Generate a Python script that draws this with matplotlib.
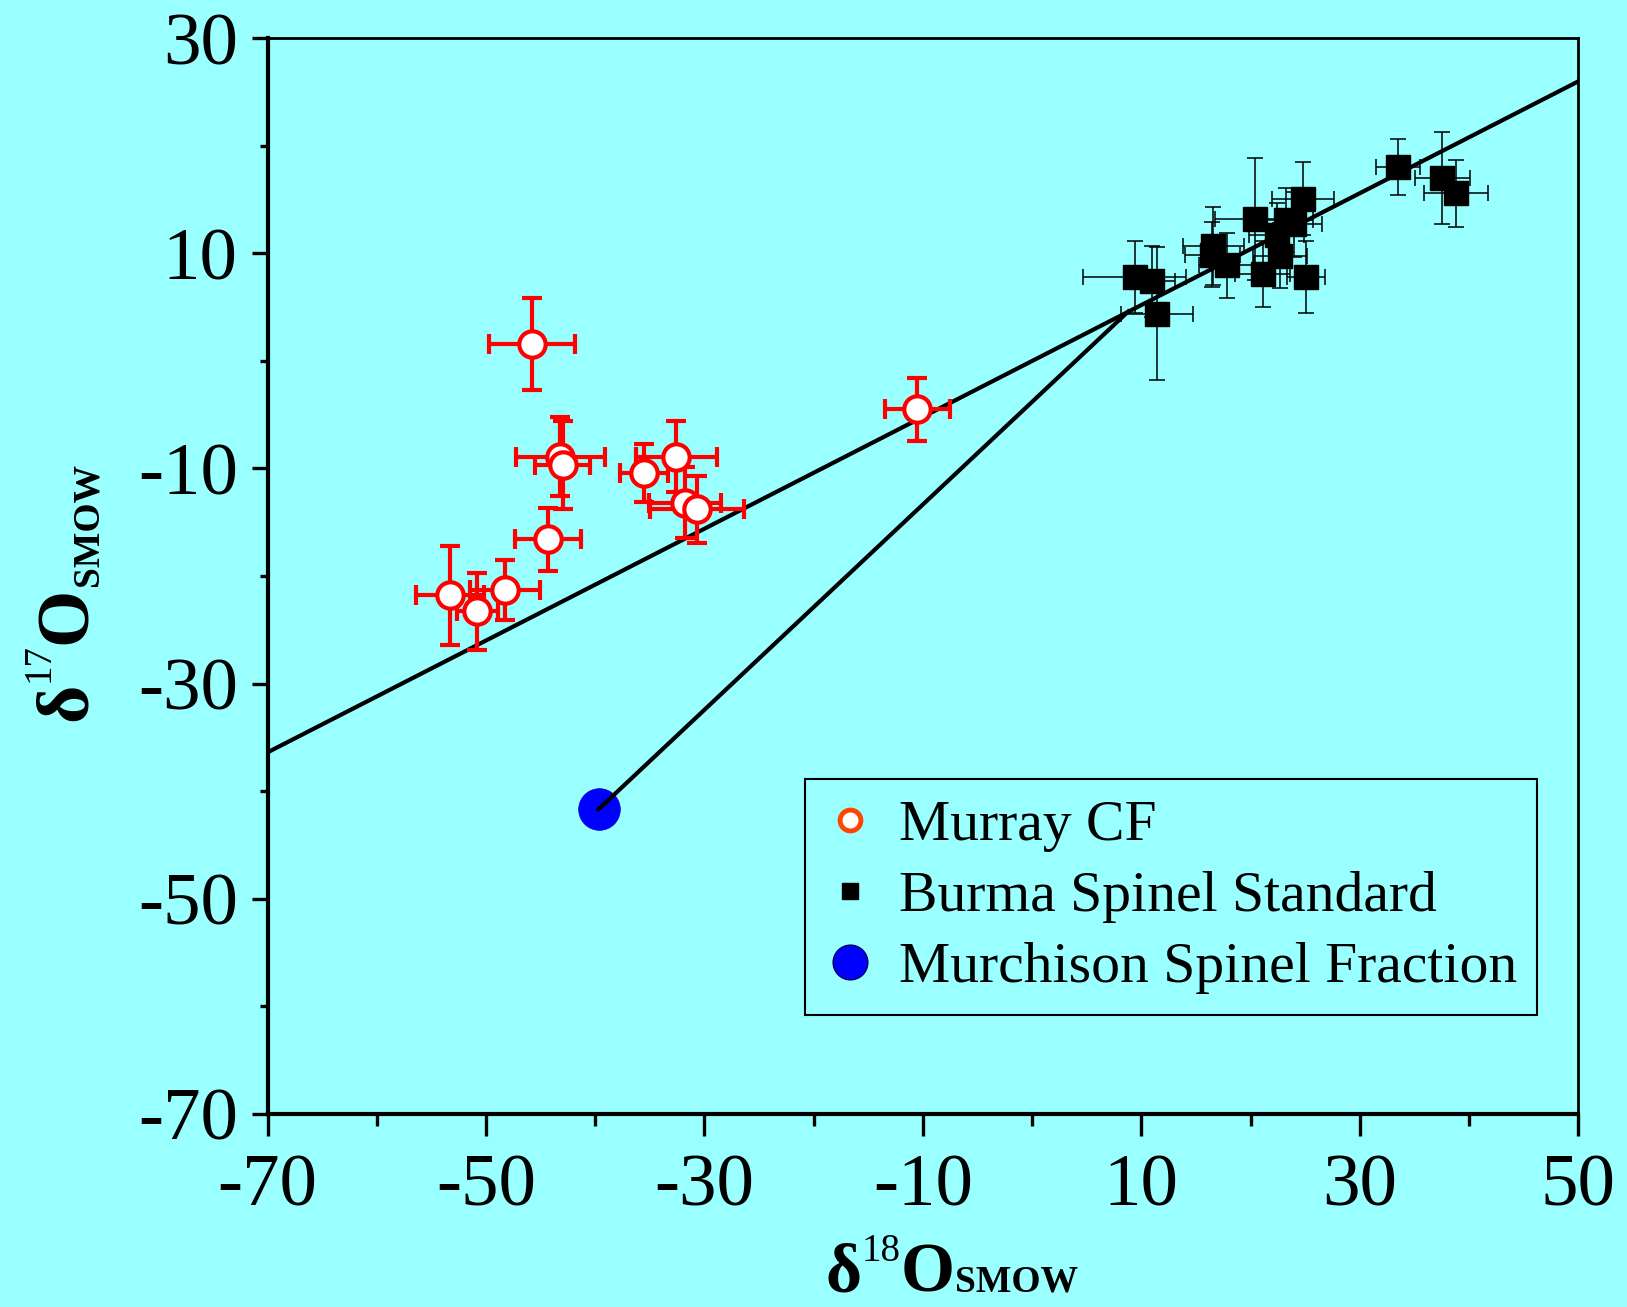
import matplotlib
matplotlib.use("Agg")
import matplotlib.pyplot as plt
from matplotlib.lines import Line2D
from matplotlib.ticker import FixedLocator

# Murray CF (open red circles)
murray_x = [-45.8, -43.2, -43.0, -35.5, -32.6, -31.8, -30.7, -44.35, -53.3, -48.3, -50.8, -10.5]
murray_y = [1.6, -8.9, -9.7, -10.4, -8.9, -13.2, -13.8, -16.6, -21.8, -21.3, -23.3, -4.5]
murray_xerr = [3.9, 4.1, 2.5, 2.2, 3.7, 3.3, 4.3, 3.0, 3.1, 3.2, 1.9, 3.0]
murray_yerr = [4.3, 3.7, 4.1, 2.7, 3.3, 3.3, 3.1, 2.9, 4.6, 2.8, 3.6, 2.9]

# Burma spinel standard (black squares)
burma_x = [9.4, 11.0, 11.4, 16.6, 16.5, 17.8, 20.45, 21.1, 24.8, 23.2, 24.0, 22.4, 22.7, 25.1, 33.5, 37.55, 38.8]
burma_y = [7.8, 7.4, 4.4, 10.7, 9.9, 8.9, 13.2, 8.1, 15.1, 13.1, 12.7, 11.7, 9.8, 7.8, 18.0, 17.0, 15.6]
burma_xerr = [4.7, 2.1, 3.3, 2.8, 2.5, 2.5, 3.7, 2.5, 2.8, 2.5, 2.5, 2.5, 2.5, 1.75, 2.0, 2.5, 2.9]
burma_yerr = [3.35, 3.3, 6.2, 3.6, 3.0, 3.0, 5.7, 3.1, 3.4, 3.0, 3.0, 3.0, 3.0, 3.35, 2.6, 4.3, 3.1]

# Murchison spinel fraction
murch_x = [-39.7]
murch_y = [-41.7]

# terrestrial fractionation line and mixing line
tf_x = [-70, 50]
tf_slope = 0.52
mix_x = [-39.7, 8.8]
mix_y = [-41.7, 4.6]

xticks = [-70, -50, -30, -10, 10, 30, 50]
xminor = [-60, -40, -20, 0, 20, 40]
yticks = [-70, -50, -30, -10, 10, 30]
yminor = [-60, -40, -20, 0, 20]

bg = "#99ffff"
W, H, DPI = 1627, 1307, 100
plt.rcParams["font.family"] = ["Liberation Serif", "DejaVu Serif"]
plt.rcParams["axes.unicode_minus"] = False

fig = plt.figure(figsize=(W / DPI, H / DPI), dpi=DPI, facecolor=bg)
ax = fig.add_axes([0.1645, 0.148, 0.8055, 0.8226], facecolor=bg)

ax.plot(tf_x, [tf_slope * v for v in tf_x], color="black", lw=3, zorder=2)
ax.plot(mix_x, mix_y, color="black", lw=3, zorder=2)

ax.errorbar(burma_x, burma_y, xerr=burma_xerr, yerr=burma_yerr, fmt="s",
            color="black", ms=17, ecolor="black", elinewidth=1.1, capsize=6,
            capthick=1.1, zorder=3)
ax.errorbar(murray_x, murray_y, xerr=murray_xerr, yerr=murray_yerr, fmt="o",
            mfc="white", mec="red", mew=3, ms=19, ecolor="red", elinewidth=3,
            capsize=7, capthick=3, zorder=4)
ax.plot(murch_x, murch_y, "o", color="#0000ff", ms=30, mec="#0000cc", mew=0.5, zorder=1)

ax.set_xlim(-70, 50)
ax.set_ylim(-70, 30)
ax.xaxis.set_major_locator(FixedLocator(xticks))
ax.xaxis.set_minor_locator(FixedLocator(xminor))
ax.yaxis.set_major_locator(FixedLocator(yticks))
ax.yaxis.set_minor_locator(FixedLocator(yminor))
ax.set_xticklabels([str(t) for t in xticks])
ax.set_yticklabels([str(t) for t in yticks])
ax.tick_params(axis="x", which="major", length=16, width=2.4, labelsize=54, pad=13)
ax.tick_params(axis="x", which="minor", length=8.5, width=2.4)
ax.tick_params(axis="y", which="major", length=11.5, width=2.4, labelsize=54, pad=10)
ax.tick_params(axis="y", which="minor", length=6, width=2.4)

for side in ["left", "bottom"]:
    ax.spines[side].set_linewidth(3)
for side in ["top", "right"]:
    ax.spines[side].set_linewidth(2)

handles = [
    Line2D([], [], ls="none", marker="o", ms=15, mfc="white", mec="#ff4500", mew=3.5),
    Line2D([], [], ls="none", marker="s", ms=12, color="black"),
    Line2D([], [], ls="none", marker="o", ms=25, mfc="#0000ff", mec="#000066", mew=1),
]
labels = ["Murray CF", "Burma Spinel Standard", "Murchison Spinel Fraction"]
leg = ax.legend(handles, labels, loc="lower left", bbox_to_anchor=(0.41, 0.092),
                borderaxespad=0, fontsize=41.5, frameon=True, fancybox=False,
                facecolor=bg, edgecolor="black", framealpha=1, handlelength=0.85,
                handletextpad=0.43, labelspacing=0.33, borderpad=0.35)
leg.get_frame().set_linewidth(1.5)

# axis titles built from pieces: small superscript mass number, small subscript
renderer = fig.canvas.get_renderer()


def rich_label(pieces, center, base, vertical=False):
    widths = []
    for s, size, weight, rise in pieces:
        t = fig.text(0, 0, s, fontsize=size, fontweight=weight)
        widths.append(t.get_window_extent(renderer).width)
        t.remove()
    pos = center - sum(widths) / 2
    for (s, size, weight, rise), w in zip(pieces, widths):
        r = rise * DPI / 72
        if vertical:
            fig.text((base - r) / W, pos / H, s, fontsize=size, fontweight=weight,
                     rotation=90, rotation_mode="anchor", ha="left", va="baseline")
        else:
            fig.text(pos / W, (base + r) / H, s, fontsize=size, fontweight=weight,
                     ha="left", va="baseline")
        pos += w


rich_label([("δ", 50, "bold", 0), ("18", 28, "normal", 22),
            ("O", 50, "bold", 0), ("SMOW", 27, "bold", 0)],
           center=952, base=H - 1292)
rich_label([("δ", 53, "bold", 0), ("17", 28, "normal", 27),
            ("O", 53, "bold", 0), ("SMOW", 27, "bold", -8)],
           center=H - 592, base=86, vertical=True)

fig.savefig("out.png", dpi=DPI, facecolor=bg)
